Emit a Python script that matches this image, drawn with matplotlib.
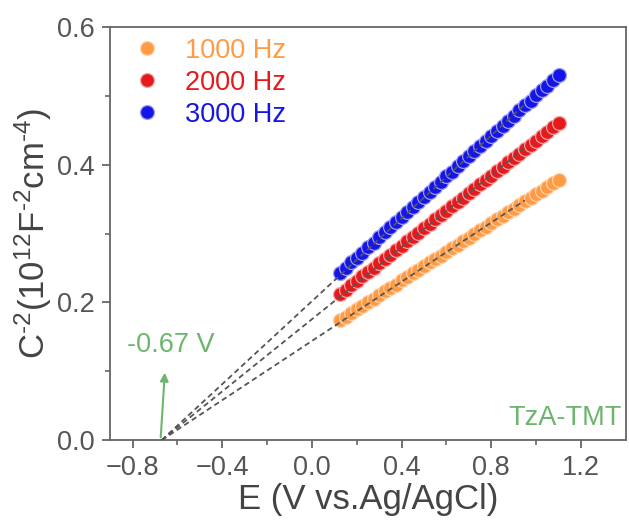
import numpy as np
import matplotlib.pyplot as plt

plt.rcParams['font.family'] = ['Liberation Sans', 'DejaVu Sans']
plt.rcParams['mathtext.fontset'] = 'custom'
plt.rcParams['mathtext.rm'] = 'Liberation Sans'
plt.rcParams['mathtext.it'] = 'Liberation Sans:italic'

# potential (V vs. Ag/AgCl)
E = [0.125, 0.15, 0.175, 0.2, 0.225, 0.25, 0.275, 0.3, 0.325, 0.35,
     0.375, 0.4, 0.425, 0.45, 0.475, 0.5, 0.525, 0.55, 0.575, 0.6,
     0.625, 0.65, 0.675, 0.7, 0.725, 0.75, 0.775, 0.8, 0.825, 0.85,
     0.875, 0.9, 0.925, 0.95, 0.975, 1.0, 1.025, 1.05, 1.075, 1.1]

c1000 = [0.174, 0.179, 0.184, 0.190, 0.195, 0.200, 0.205, 0.211, 0.216, 0.221,
         0.226, 0.232, 0.237, 0.242, 0.247, 0.253, 0.258, 0.263, 0.268, 0.273,
         0.279, 0.284, 0.289, 0.294, 0.300, 0.305, 0.310, 0.315, 0.321, 0.326,
         0.331, 0.336, 0.341, 0.347, 0.352, 0.357, 0.362, 0.368, 0.373, 0.378]
c2000 = [0.212, 0.218, 0.225, 0.231, 0.238, 0.244, 0.250, 0.257, 0.263, 0.269,
         0.276, 0.282, 0.289, 0.295, 0.301, 0.308, 0.314, 0.321, 0.327, 0.333,
         0.340, 0.346, 0.352, 0.359, 0.365, 0.372, 0.378, 0.384, 0.391, 0.397,
         0.404, 0.410, 0.416, 0.423, 0.429, 0.435, 0.442, 0.448, 0.455, 0.461]
c3000 = [0.243, 0.250, 0.258, 0.265, 0.272, 0.280, 0.287, 0.295, 0.302, 0.309,
         0.317, 0.324, 0.331, 0.339, 0.346, 0.353, 0.361, 0.368, 0.375, 0.383,
         0.390, 0.398, 0.405, 0.412, 0.420, 0.427, 0.434, 0.442, 0.449, 0.456,
         0.464, 0.471, 0.479, 0.486, 0.493, 0.501, 0.508, 0.515, 0.523, 0.530]

labels = ['1000 Hz', '2000 Hz', '3000 Hz']
colors = ['#FF9A45', '#E41A1C', '#1515E6']
edges = ['#FFD2A8', '#F7A0A0', '#9A9AF7']
v_fb = -0.67

fig = plt.figure(figsize=(6.29, 5.29), dpi=100)
ax = fig.add_axes([0.175, 0.168, 0.82, 0.781])

E = np.array(E)
for y, lab, col, ed in zip([c1000, c2000, c3000], labels, colors, edges):
    y = np.array(y)
    # Mott-Schottky line forced through the flat-band potential
    slope = np.sum((E - v_fb) * y) / np.sum((E - v_fb) ** 2)
    ax.plot(E, y, 'o', ms=10, mfc=col, mec=ed, mew=0.9, label=lab, zorder=2)
    xf = np.array([v_fb, 0.95])
    ax.plot(xf, slope * (xf - v_fb), '--', color='#555555', lw=1.3,
            dashes=(3, 2), zorder=3)

ax.set_xlim(-0.9, 1.4)
ax.set_ylim(0, 0.6)
ax.set_xticks([-0.8, -0.4, 0.0, 0.4, 0.8, 1.2])
ax.set_xticks([-0.6, -0.2, 0.2, 0.6, 1.0], minor=True)
ax.set_yticks([0.0, 0.2, 0.4, 0.6])
ax.set_yticks([0.1, 0.3, 0.5], minor=True)
fmt = plt.FuncFormatter(lambda v, p: ('%.1f' % v).replace('-', '\u2212'))
ax.xaxis.set_major_formatter(fmt)
ax.yaxis.set_major_formatter(fmt)

for s in ax.spines.values():
    s.set_color('#666666')
    s.set_linewidth(1.3)
ax.tick_params(which='major', direction='out', length=6, width=1.3,
               color='#666666', labelsize=19.5, labelcolor='#555555', pad=5)
ax.tick_params(which='minor', direction='out', length=3.5, width=1.2,
               color='#666666')

ax.set_xlabel('E (V vs.Ag/AgCl)', fontsize=25, color='#444444', labelpad=1)
ax.set_ylabel(r'C$^{\text{-}2}$(10$^{12}$F$^{\text{-}2}$cm$^{\text{-}4}$)',
              fontsize=25, color='#444444', labelpad=2)

leg = ax.legend(loc='upper left', frameon=False, fontsize=19.5,
                handletextpad=0.8, labelspacing=0.22, borderaxespad=0.0,
                markerscale=1.0, handlelength=1.2,
                bbox_to_anchor=(0.02, 1.0))
for t, col in zip(leg.get_texts(), colors):
    t.set_color(col)

green = '#6DB56D'
ax.annotate('', xy=(-0.655, 0.102), xytext=(-0.675, 0.0),
            arrowprops=dict(arrowstyle='-|>', color=green, lw=1.5,
                            mutation_scale=12))
ax.text(-0.63, 0.138, '-0.67 V', color=green, fontsize=19.5, ha='center',
        va='center')
ax.text(1.383, 0.032, 'TzA-TMT', color=green, fontsize=19.5, ha='right',
        va='center')

fig.savefig('out.png', dpi=100)
